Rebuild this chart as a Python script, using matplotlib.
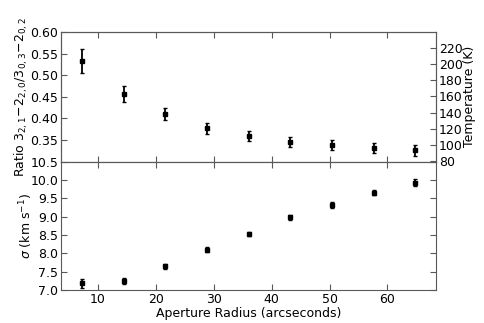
import matplotlib
matplotlib.use('Agg')
import matplotlib.pyplot as plt
import numpy as np

radius = [7.2, 14.4, 21.6, 28.8, 36.0, 43.2, 50.4, 57.6, 64.8]
ratio = [0.533, 0.456, 0.411, 0.377, 0.359, 0.345, 0.339, 0.332, 0.326]
ratio_err = [0.028, 0.018, 0.014, 0.013, 0.012, 0.011, 0.012, 0.011, 0.012]
sigma = [7.18, 7.24, 7.65, 8.10, 8.53, 8.98, 9.32, 9.66, 9.93]
sigma_err = [0.13, 0.08, 0.07, 0.07, 0.06, 0.07, 0.07, 0.08, 0.09]

ratio_ticks = [0.35, 0.40, 0.45, 0.50, 0.55, 0.60]
temp_ticks = [80, 100, 120, 140, 160, 180, 200, 220]
sigma_ticks = [7.0, 7.5, 8.0, 8.5, 9.0, 9.5, 10.0, 10.5]

plt.rcParams['font.size'] = 9
plt.rcParams['mathtext.fontset'] = 'dejavusans'
plt.rcParams['xtick.direction'] = 'in'
plt.rcParams['ytick.direction'] = 'in'
plt.rcParams['xtick.top'] = True
plt.rcParams['ytick.right'] = True
plt.rcParams['axes.edgecolor'] = '0.35'
plt.rcParams['xtick.color'] = '0.35'
plt.rcParams['ytick.color'] = '0.35'
plt.rcParams['xtick.labelcolor'] = 'black'
plt.rcParams['ytick.labelcolor'] = 'black'

fig = plt.figure(figsize=(4.85, 3.23), dpi=100)
ax1 = fig.add_axes([0.1258, 0.4994, 0.7732, 0.4015])
ax2 = fig.add_axes([0.1258, 0.102, 0.7732, 0.3974], sharex=ax1)

ax1.errorbar(radius, ratio, yerr=ratio_err, fmt='s', color='black',
             markersize=3.2, elinewidth=1.3, capsize=1.5)
ax1.set_ylim(0.30, 0.60)
ax1.set_yticks(ratio_ticks)
ax1.set_yticklabels(['%.2f' % t for t in ratio_ticks])
ax1.set_ylabel(r'Ratio $3_{2,1}\!-\!2_{2,0}/3_{0,3}\!-\!2_{0,2}$', labelpad=0)
plt.setp(ax1.get_xticklabels(), visible=False)

tw = ax1.twinx()
tw.set_ylim(79, 240)
tw.set_yticks(temp_ticks)
tw.set_ylabel('Temperature (K)', labelpad=0)

ax2.errorbar(radius, sigma, yerr=sigma_err, fmt='s', color='black',
             markersize=3.2, elinewidth=1.3, capsize=1.5)
ax2.set_ylim(7.0, 10.5)
ax2.set_yticks(sigma_ticks)
ax2.set_xlim(3.6, 68.4)
ax2.set_xticks([10, 20, 30, 40, 50, 60])
ax2.set_xlabel('Aperture Radius (arcseconds)', labelpad=1)
ax2.set_ylabel(r'$\sigma$ (km s$^{-1}$)', labelpad=-3)

for ax in (ax1, ax2, tw):
    ax.tick_params(length=4, width=0.8, pad=2)

fig.savefig('out.png', dpi=100, facecolor='white')
